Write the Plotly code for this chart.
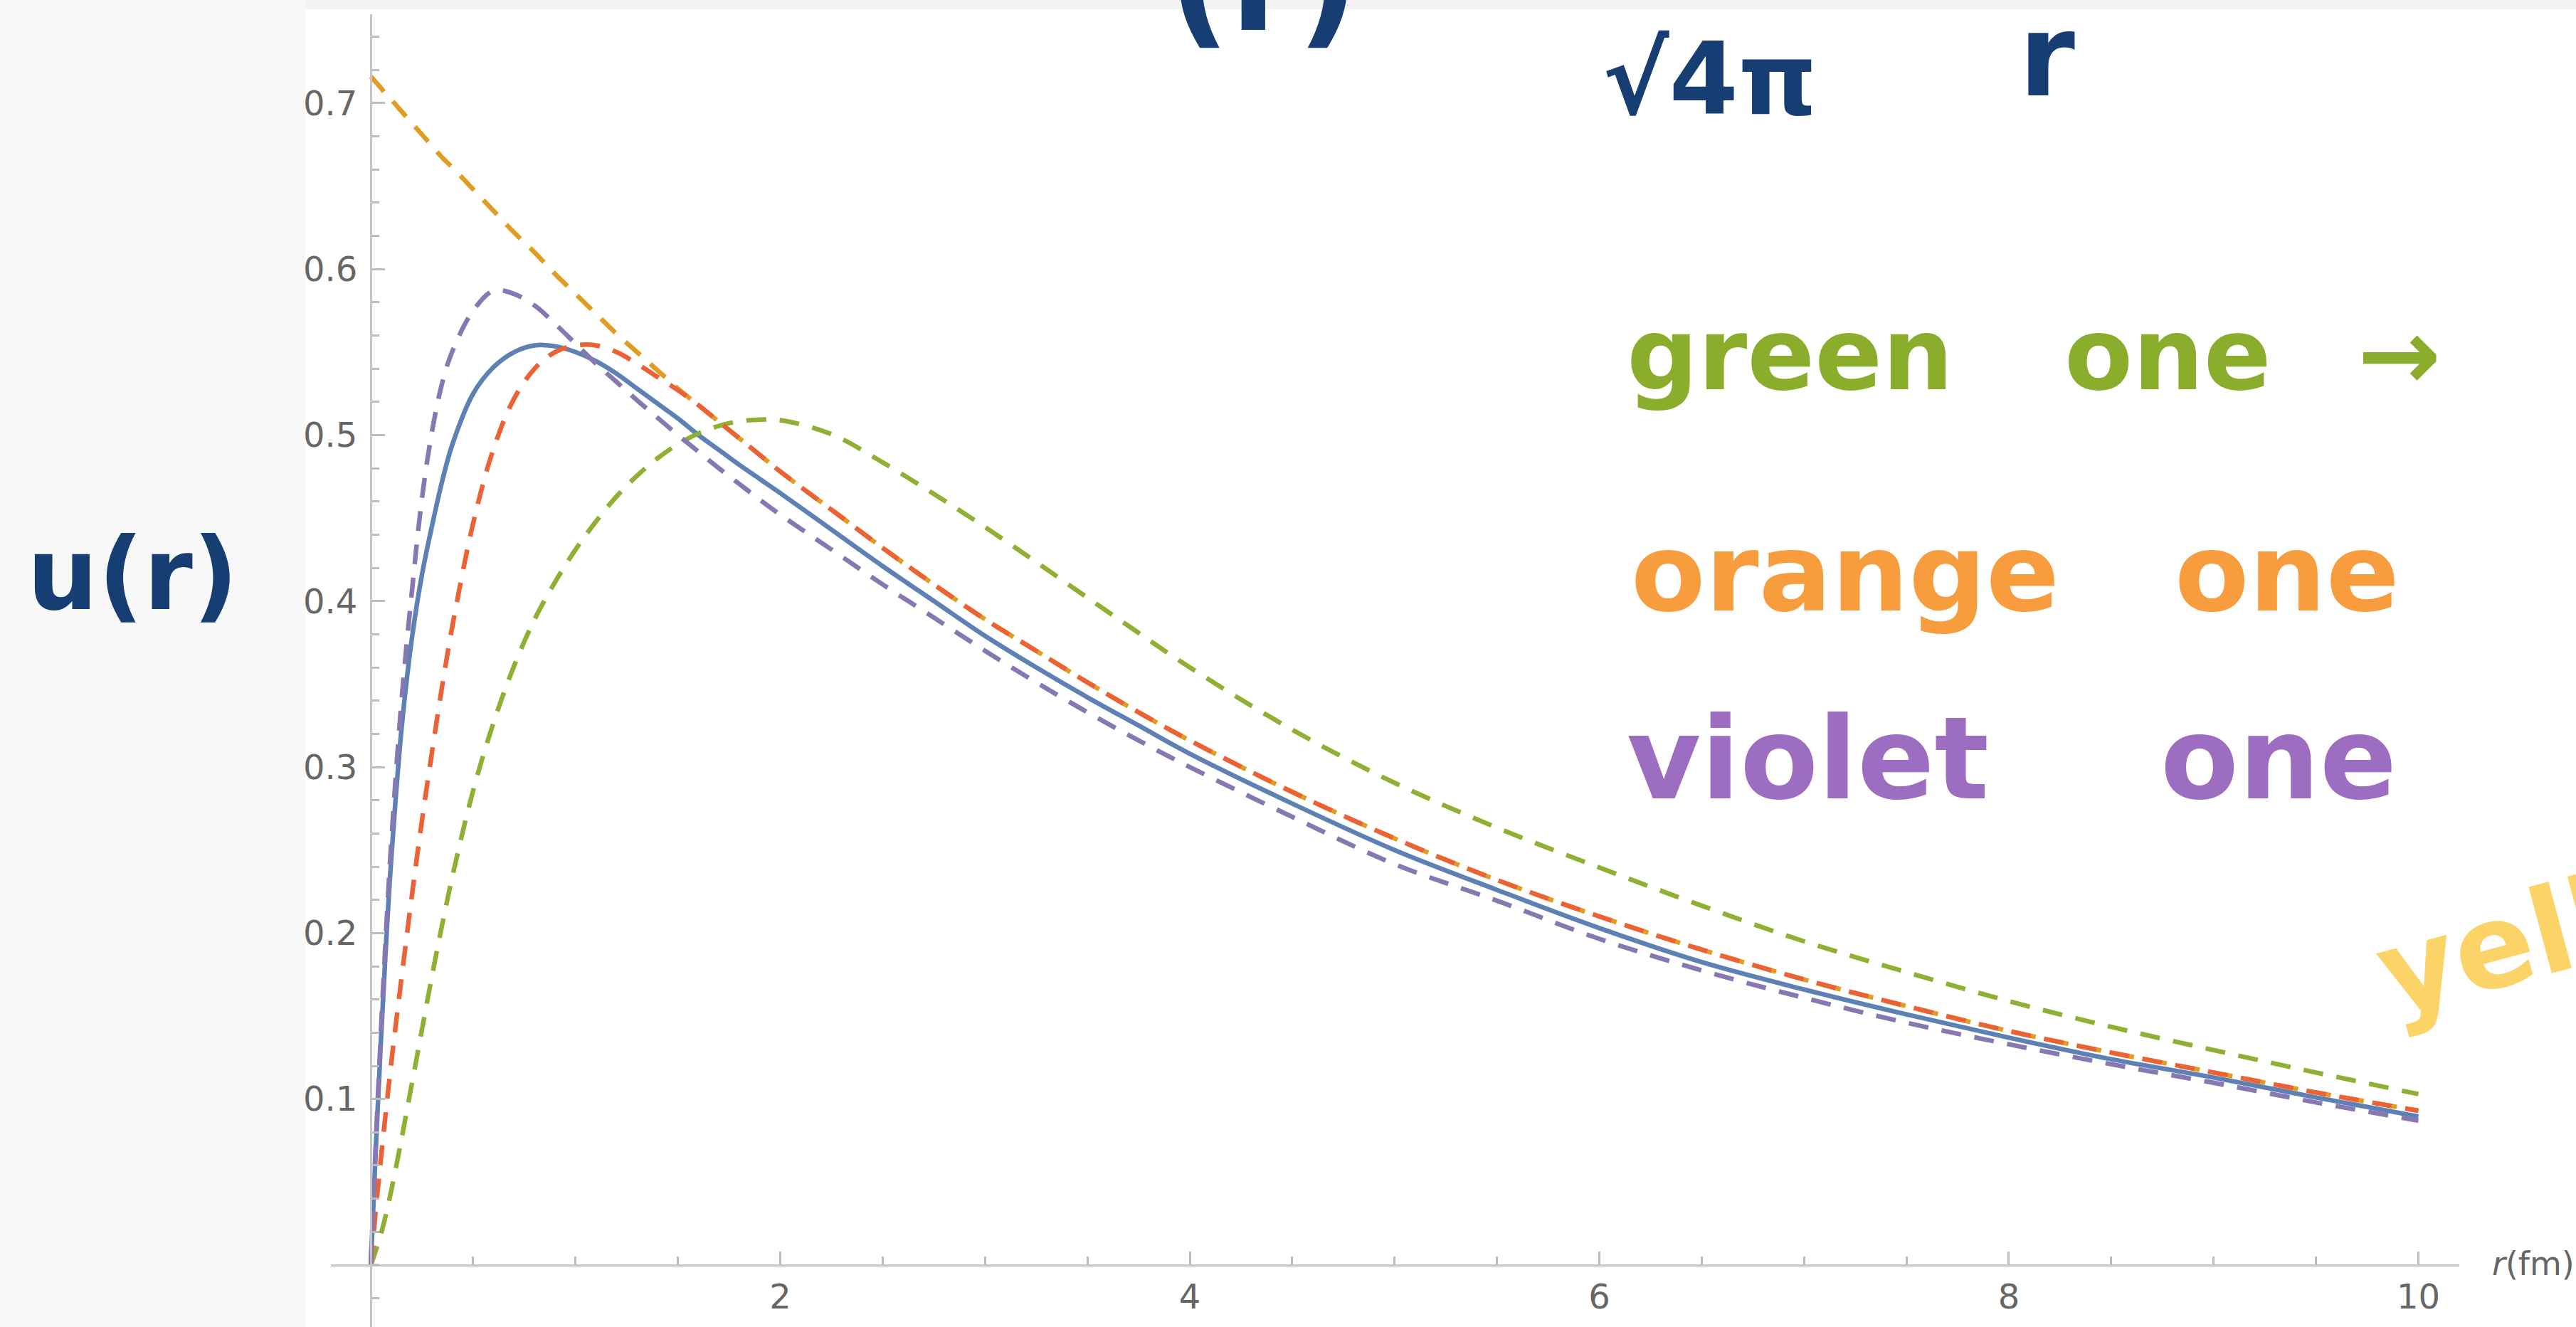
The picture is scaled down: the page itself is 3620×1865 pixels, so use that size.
import plotly.graph_objects as go

# ---------------- data ----------------
r = [0, 0.025, 0.05, 0.075, 0.1, 0.15, 0.2, 0.25, 0.3, 0.35, 0.4,
     0.5, 0.6, 0.7, 0.8, 0.9, 1.0, 1.1, 1.2, 1.3, 1.4, 1.5, 1.6, 1.7, 1.8, 1.9, 2.0,
     2.25, 2.5, 2.75, 3.0, 3.25, 3.5, 3.75, 4.0,
     4.5, 5.0, 5.5, 6.0, 6.5, 7.0, 7.5, 8.0, 8.5, 9.0, 9.5, 10.0]

u_blue = [0.0, 0.072, 0.137, 0.195, 0.245, 0.323, 0.377, 0.416, 0.446, 0.473, 0.495,
          0.525, 0.541, 0.550, 0.554, 0.5535, 0.550, 0.5445, 0.537, 0.528, 0.519, 0.510,
          0.500, 0.491, 0.482, 0.4735, 0.465,
          0.443, 0.421, 0.400, 0.379, 0.360, 0.342, 0.325, 0.308,
          0.278, 0.250, 0.226, 0.203, 0.1825, 0.166, 0.151, 0.137, 0.124, 0.113, 0.101, 0.0895]

u_yellow = [0.716, 0.7125, 0.709, 0.705, 0.702, 0.695, 0.688, 0.681, 0.674, 0.667, 0.661,
            0.648, 0.635, 0.622, 0.610, 0.597, 0.585, 0.573, 0.561, 0.550, 0.539, 0.528,
            0.518, 0.508, 0.498, 0.488, 0.478,
            0.455, 0.432, 0.410, 0.389, 0.370, 0.351, 0.333, 0.316,
            0.285, 0.257, 0.232, 0.210, 0.190, 0.172, 0.156, 0.141, 0.128, 0.116, 0.104, 0.093]

u_green = [0.0, 0.009, 0.019, 0.031, 0.045, 0.076, 0.109, 0.142, 0.175, 0.206, 0.235,
           0.286, 0.327, 0.361, 0.389, 0.4115, 0.431, 0.448, 0.463, 0.4755, 0.486, 0.4945,
           0.501, 0.5055, 0.5083, 0.5093, 0.509,
           0.5005, 0.4835, 0.4645, 0.4445, 0.4235, 0.402, 0.3808, 0.360,
           0.3225, 0.2905, 0.2635, 0.2395, 0.2165, 0.195, 0.1765, 0.159, 0.1435, 0.1295,
           0.116, 0.103]

u_red = [0.0, 0.034, 0.065, 0.094, 0.122, 0.173, 0.222, 0.268, 0.310, 0.350, 0.386,
         0.447, 0.492, 0.522, 0.540, 0.550, 0.554, 0.554, 0.550, 0.543, 0.535, 0.527,
         0.518, 0.508, 0.498, 0.488, 0.478,
         0.455, 0.432, 0.410, 0.389, 0.370, 0.351, 0.333, 0.316,
         0.285, 0.257, 0.232, 0.210, 0.190, 0.172, 0.156, 0.141, 0.128, 0.116, 0.104, 0.093]

u_purple = [0.0, 0.075, 0.142, 0.202, 0.255, 0.340, 0.405, 0.462, 0.503, 0.532, 0.551,
            0.575, 0.587, 0.585, 0.578, 0.567, 0.555, 0.543, 0.532, 0.521, 0.5105, 0.500,
            0.490, 0.480, 0.4705, 0.461, 0.452,
            0.431, 0.410, 0.390, 0.370, 0.351, 0.333, 0.316, 0.300,
            0.270, 0.2415, 0.2195, 0.1965, 0.1775, 0.161, 0.146, 0.133, 0.121, 0.1098,
            0.098, 0.087]

x_tick_vals = [2, 4, 6, 8, 10]
x_tick_labels = ["2", "4", "6", "8", "10"]
y_tick_vals = [0.1, 0.2, 0.3, 0.4, 0.5, 0.6, 0.7]
y_tick_labels = ["0.1", "0.2", "0.3", "0.4", "0.5", "0.6", "0.7"]

# ---------------- layout geometry ----------------
W, H = 3620, 1865
L, R, T, B = 465, 164, 20, 0
X_RANGE = [-0.195, 10.2]
Y_RANGE = [-0.0373, 0.7535]
PW, PH = W - L - R, H - T - B


def px(X):
    return (X - L) / PW


def py(Y):
    return (H - B - Y) / PH


DASH = "28px,19px"
series = [
    (u_blue, "#5E81B5", "solid"),
    (u_yellow, "#E19C24", DASH),
    (u_green, "#8FB032", DASH),
    (u_red, "#EB6235", DASH),
    (u_purple, "#8778B3", DASH),
]

fig = go.Figure()
for vals, col, d in series:
    fig.add_trace(go.Scatter(
        x=r, y=vals, mode="lines",
        line=dict(color=col, width=6.5, dash=d, shape="spline", smoothing=1.0),
        showlegend=False, hoverinfo="skip", cliponaxis=False,
    ))

TICKFONT = dict(family="DejaVu Sans, sans-serif", size=48, color="#666666")
AX_LINE = "#c6c6c6"
TICK_COL = "#bcbcbc"

fig.update_xaxes(
    range=X_RANGE, anchor="free", position=py(1778), automargin=False,
    showgrid=False, zeroline=False, showline=True, linecolor=AX_LINE, linewidth=3,
    tickmode="array", tickvals=x_tick_vals, ticktext=x_tick_labels,
    ticks="inside", ticklen=18, tickwidth=2.5, tickcolor=TICK_COL,
    tickfont=TICKFONT, ticklabelstandoff=1,
    minor=dict(tickmode="linear", tick0=0, dtick=0.5, ticks="inside", ticklen=11,
               tickwidth=2.5, tickcolor=TICK_COL, showgrid=False),
)
fig.update_yaxes(
    range=Y_RANGE, anchor="free", position=px(521), automargin=False,
    showgrid=False, zeroline=False, showline=True, linecolor=AX_LINE, linewidth=3,
    tickmode="array", tickvals=y_tick_vals, ticktext=y_tick_labels,
    ticks="inside", ticklen=18, tickwidth=2.5, tickcolor=TICK_COL,
    tickfont=TICKFONT, ticklabelstandoff=8,
    minor=dict(tickmode="linear", tick0=0, dtick=0.02, ticks="inside", ticklen=10,
               tickwidth=2.5, tickcolor=TICK_COL, showgrid=False),
)

# background of the note page around the pasted plot
shapes = [
    dict(type="rect", xref="paper", yref="paper", x0=px(0), x1=px(429),
         y0=py(H), y1=py(0), fillcolor="#f8f8f8", line=dict(width=0), layer="below"),
    dict(type="rect", xref="paper", yref="paper", x0=px(429), x1=px(W),
         y0=py(13), y1=py(0), fillcolor="#f2f2f2", line=dict(width=0), layer="below"),
]

HAND = "DejaVu Sans, Noto Sans, sans-serif"
NAVY = "#173e72"
GREEN = "#8aae2c"
ORANGE = "#f79d3e"
VIOLET = "#9c6dc1"
YELLOW = "#fcd366"


def note(text, X, Y, size, color, angle=0, xanchor="left"):
    return dict(text="<b>%s</b>" % text, xref="paper", yref="paper",
                x=px(X), y=py(Y), xanchor=xanchor, yanchor="middle",
                showarrow=False, textangle=angle,
                font=dict(family=HAND, size=size, color=color))


annotations = [
    note("u(r)", 36, 808, 140, NAVY),
    # top formula, cut off by the top edge as in the reference
    note("(r)", 1640, -24, 190, NAVY),
    note("=", 2088, -40, 160, NAVY),
    note("√4π", 2250, 112, 140, NAVY),
    note("r", 2835, 78, 160, NAVY),
    note("green", 2284, 498, 140, GREEN),
    note("one", 2899, 498, 140, GREEN),
    note("→", 3311, 498, 140, GREEN),
    note("orange", 2290, 805, 152, ORANGE),
    note("one", 3054, 805, 152, ORANGE),
    note("violet", 2284, 1066, 160, VIOLET),
    note("one", 3034, 1066, 160, VIOLET),
    note("yell", 3318, 1330, 165, YELLOW, angle=-15),
    dict(text="<i>r</i>(fm)", xref="paper", yref="paper", x=px(3500), y=py(1776),
         xanchor="left", yanchor="middle", showarrow=False,
         font=dict(family="DejaVu Sans, sans-serif", size=46, color="#666666")),
]

fig.update_layout(
    width=W, height=H,
    margin=dict(l=L, r=R, t=T, b=B, pad=0),
    paper_bgcolor="white", plot_bgcolor="white",
    shapes=shapes, annotations=annotations,
    showlegend=False,
)

fig.write_html("out.html", config={"displayModeBar": False},
               post_script="document.body.style.margin='0';")
